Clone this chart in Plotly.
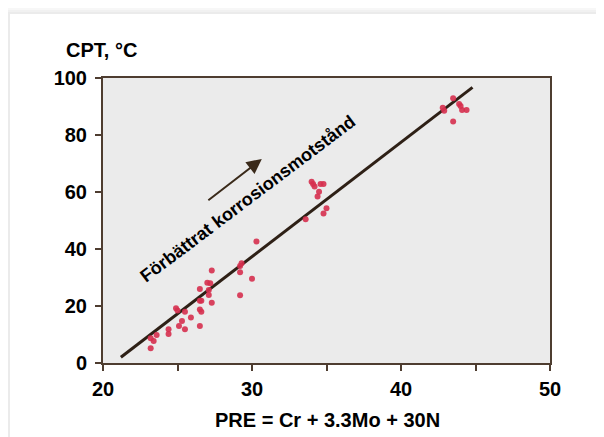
import plotly.graph_objects as go

# Data
pre = [30.3, 29.3, 29.2, 29.2, 30.0, 27.3, 27.0, 27.2, 26.5, 27.1, 27.1, 29.2, 27.3, 26.5, 26.6,
       26.5, 26.6, 24.9, 25.0, 25.5, 25.9, 25.3, 25.1, 26.5, 25.5, 24.4, 24.4, 23.6, 23.2, 23.4, 23.2,
       34.0, 34.1, 34.2, 34.6, 34.8, 34.5, 34.4, 35.0, 34.8, 33.6,
       43.5, 42.8, 42.9, 43.9, 44.0, 44.1, 44.4, 43.5]
cpt = [42.6, 35.0, 34.0, 31.8, 29.6, 32.5, 28.2, 28.0, 26.0, 25.6, 23.9, 23.8, 21.1, 21.8, 21.8,
       18.8, 18.0, 19.2, 18.4, 18.0, 16.0, 14.7, 13.0, 13.0, 11.8, 11.8, 10.2, 9.8, 8.7, 7.7, 5.2,
       63.6, 62.8, 61.9, 62.8, 62.8, 60.1, 58.4, 54.3, 52.5, 50.4,
       92.9, 89.6, 88.5, 90.9, 90.2, 88.8, 88.8, 84.7]
fit_x = [21.2, 44.8]
fit_y = [2.0, 96.7]
x_ticks = [20, 25, 30, 35, 40, 45, 50]
x_ticktext = ["20", "", "30", "", "40", "", "50"]
y_ticks = [0, 20, 40, 60, 80, 100]

OFF = 8  # page body margin
PAGE_W, PAGE_H = 604, 437
W, H = PAGE_W - OFF, PAGE_H - OFF
# plot area in page pixels
PL, PR, PT, PB = 103, 550, 78, 363
ML, MR, MT, MB = PL - OFF, W - (PR - OFF), PT - OFF, H - (PB - OFF)
PW, PH = PR - PL, PB - PT

def px(x):  # page x pixel -> paper
    return (x - PL) / PW

def py(y):  # page y pixel -> paper
    return (PB - y) / PH

FONT = "Liberation Sans, Arial, sans-serif"
AX = "#4e3d30"

fig = go.Figure()
fig.add_trace(go.Scatter(x=fit_x, y=fit_y, mode="lines",
                         line=dict(color="#2e2016", width=3), hoverinfo="skip"))
fig.add_trace(go.Scatter(x=pre, y=cpt, mode="markers",
                         marker=dict(color="#d6304f", size=6, opacity=0.9, line=dict(width=0))))

shapes = []
for off, col in [(10, "#fcfcfc"), (7, "#f7f7f7"), (4, "#f1f1f1"), (2, "#ebebeb")]:
    shapes.append(dict(type="rect", xref="paper", yref="paper",
                       x0=px(10 - off), x1=px(PAGE_W + 20), y0=py(PAGE_H + 20), y1=py(14 - off),
                       fillcolor=col, line=dict(width=0), layer="below"))
shapes.append(dict(type="rect", xref="paper", yref="paper",
                   x0=px(10), x1=px(PAGE_W + 20), y0=py(PAGE_H + 20), y1=py(14),
                   fillcolor="white", line=dict(width=0), layer="below"))
shapes.append(dict(type="rect", xref="paper", yref="paper", x0=0, x1=1, y0=0, y1=1,
                   fillcolor="#ebebeb", line=dict(width=0), layer="below"))

annotations = [
    dict(text="<b>CPT, °C</b>", xref="paper", yref="paper", x=px(64), y=py(50),
         xanchor="left", yanchor="middle", showarrow=False,
         font=dict(family=FONT, size=20, color="black")),
    dict(text="<b>PRE = Cr + 3.3Mo + 30N</b>", xref="paper", yref="paper", x=px(327), y=py(420),
         xanchor="center", yanchor="middle", showarrow=False,
         font=dict(family=FONT, size=20, color="black")),
    dict(text="<b>Förbättrat korrosionsmotstånd</b>", xref="x", yref="y", x=29.7, y=57.5,
         textangle=-37, showarrow=False, font=dict(family=FONT, size=18, color="black")),
    dict(text="", x=30.66, y=71.6, ax=26.97, ay=56.7, xref="x", yref="y", axref="x", ayref="y",
         showarrow=True, arrowhead=2, arrowsize=1.5, arrowwidth=2, arrowcolor="#3a2a1a"),
]

fig.update_layout(
    width=W, height=H, margin=dict(l=ML, r=MR, t=MT, b=MB, pad=0),
    paper_bgcolor="white", plot_bgcolor="#ebebeb", showlegend=False,
    shapes=shapes, annotations=annotations,
    xaxis=dict(range=[20, 50], tickvals=x_ticks, ticktext=x_ticktext, showgrid=False, zeroline=False,
               ticks="outside", ticklen=6, tickwidth=2, tickcolor=AX, showline=True, linewidth=2,
               linecolor=AX, mirror=True, ticklabelstandoff=1,
               tickfont=dict(family=FONT, size=20, color="black", weight="bold")),
    yaxis=dict(range=[0, 100], tickvals=y_ticks, showgrid=False, zeroline=False,
               ticks="outside", ticklen=6, tickwidth=2, tickcolor=AX, showline=True, linewidth=2,
               linecolor=AX, mirror=True, ticklabelstandoff=4,
               tickfont=dict(family=FONT, size=20, color="black", weight="bold")),
)

fig.write_html("out.html")
